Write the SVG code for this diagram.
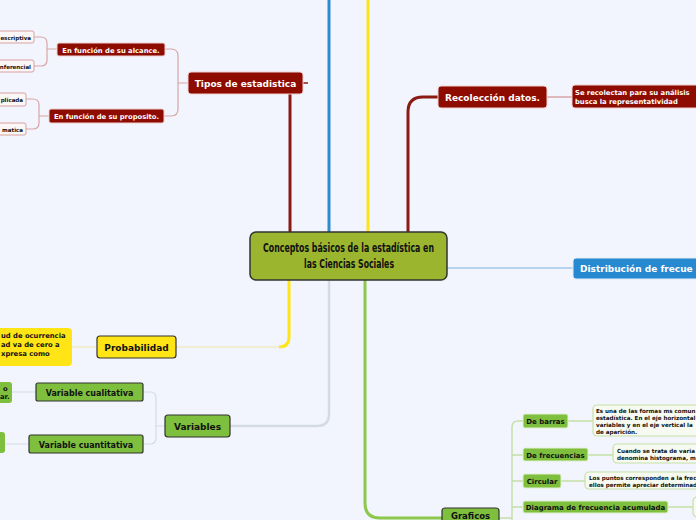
<svg xmlns="http://www.w3.org/2000/svg" width="696" height="520" viewBox="0 0 696 520">
<style>
.t{font-family:"DejaVu Sans","Liberation Sans",sans-serif;font-weight:bold}
.red{fill:#8e0b00;stroke:#f0d0d0;stroke-width:1}
.leaf{fill:#fbf7f7;stroke:#d7a0a0;stroke-width:1}
.yel{fill:#ffe516;stroke:#333;stroke-width:1.2}
.grn{fill:#7ebf3e;stroke:#333;stroke-width:1.2}
.grn2{fill:#7ebf3e;stroke:#e0f0d0;stroke-width:1}
.desc{fill:#f6faf0;stroke:#c6e0a8;stroke-width:1.2}
.w{fill:#fff}
.k{fill:#111}
</style>
<rect width="696" height="520" fill="#f2f5fd"/>
<g id="connectors" fill="none">
  <path d="M329,0 V232" stroke="#2f8bd0" stroke-width="3"/>
  <path d="M368,0 V232" stroke="#ffe516" stroke-width="3"/>
  <path d="M290,232 V94" stroke="#8b1a12" stroke-width="3"/>
  <path d="M303,83 H308" stroke="#8b1a12" stroke-width="1.5"/>
  <path d="M408,232 V112 Q408,97 423,97 H438" stroke="#8b1a12" stroke-width="3"/>
  <path d="M547,97 H572" stroke="#d9a5a5" stroke-width="1.5"/>
  <path d="M447,268 H573" stroke="#b7d3ee" stroke-width="2"/>
  <path d="M289,280 V337 Q289,347 279,347" stroke="#ffe516" stroke-width="3"/>
  <path d="M176,347 H281 M72,347 H96" stroke="#eee6a8" stroke-width="1.2"/>
  <path d="M329,280 V414 Q329,426 317,426 H230" stroke="#d5dbe3" stroke-width="2.5"/>
  <path d="M165,426 H156 M143,392 H150 Q156,392 156,398 V438 Q156,444 150,444 H143 M12,392 H36 M5,444 H29" stroke="#d5dbe3" stroke-width="1.2"/>
  <path d="M365,280 V503 Q365,518 380,518 H442" stroke="#8cc84b" stroke-width="3"/>
  <path d="M499,518 H512 M512,520 V427 Q512,421 518,421 H523 M512,455 H523 M512,481 H523 M512,507 H523" stroke="#c6e0a8" stroke-width="1.5"/>
  <path d="M568,421 H593 M588,455 H613 M561,481 H585 M668,507 H693" stroke="#c6e0a8" stroke-width="1.5"/>
  <path d="M188,83 H178 M165,49 H171 Q178,49 178,56 V109 Q178,116 171,116 H164" stroke="#d9a5a5" stroke-width="1.2"/>
  <path d="M57,49 H47 M34,37 H41 Q47,37 47,43 V60 Q47,66 41,66 H34 M49,116 H39 M26,99 H33 Q39,99 39,105 V123 Q39,129 33,129 H26" stroke="#d9a5a5" stroke-width="1.2"/>
</g>
<g id="central">
  <rect x="250" y="232" width="197" height="48" rx="6" fill="#9cb52e" stroke="#333" stroke-width="1.5"/>
  <text class="k" x="348.5" y="252" text-anchor="middle" font-family="'DejaVu Sans Condensed','DejaVu Sans',sans-serif" font-weight="bold" font-size="12.5" textLength="171" lengthAdjust="spacingAndGlyphs">Conceptos básicos de la estadística en</text>
  <text class="k" x="349" y="268" text-anchor="middle" font-family="'DejaVu Sans Condensed','DejaVu Sans',sans-serif" font-weight="bold" font-size="12.5" textLength="90" lengthAdjust="spacingAndGlyphs">las Ciencias Sociales</text>
</g>
<g id="tipos">
  <rect class="red" x="188" y="72" width="115" height="22" rx="3"/>
  <text class="t w" x="245.5" y="86.5" text-anchor="middle" font-size="9">Tipos de estadistica</text>
</g>
<g id="alcance">
  <rect class="red" x="57" y="43" width="108" height="13" rx="2"/>
  <text class="t w" x="111" y="52.5" text-anchor="middle" font-size="6.8">En función de su alcance.</text>
</g>
<g id="proposito">
  <rect class="red" x="49" y="109" width="115" height="14" rx="2"/>
  <text class="t w" x="106.5" y="119" text-anchor="middle" font-size="6.8">En función de su proposito.</text>
</g>
<g id="descriptiva">
  <rect class="leaf" x="-10" y="31" width="44" height="12" rx="2"/>
  <text class="t k" x="31" y="39.5" text-anchor="end" font-size="5.5">escriptiva</text>
</g>
<g id="inferencial">
  <rect class="leaf" x="-10" y="60" width="44" height="12" rx="2"/>
  <text class="t k" x="31" y="68.5" text-anchor="end" font-size="5.5">nferencial</text>
</g>
<g id="aplicada">
  <rect class="leaf" x="-10" y="93" width="36" height="13" rx="2"/>
  <text class="t k" x="23" y="101.5" text-anchor="end" font-size="5.5">plicada</text>
</g>
<g id="matematica">
  <rect class="leaf" x="-10" y="123" width="36" height="12" rx="2"/>
  <text class="t k" x="23" y="131.5" text-anchor="end" font-size="5.5">matica</text>
</g>
<g id="recoleccion">
  <rect class="red" x="438" y="86" width="109" height="22" rx="3"/>
  <text class="t w" x="492.5" y="100.5" text-anchor="middle" font-size="9">Recolección datos.</text>
</g>
<g id="recoleccion-desc">
  <rect class="red" x="572" y="85" width="140" height="23" rx="3"/>
  <text class="t w" x="575" y="94.5" font-size="6.8">Se recolectan para su análisis</text>
  <text class="t w" x="575" y="103.5" font-size="6.8">busca la representatividad</text>
</g>
<g id="distribucion">
  <rect x="573" y="258" width="140" height="21" rx="3" fill="#2789cf" stroke="#e0ecf8" stroke-width="1"/>
  <text class="t w" x="580" y="272" font-size="9">Distribución de frecue</text>
</g>
<g id="probabilidad">
  <rect class="yel" x="97" y="336" width="79" height="22" rx="3"/>
  <text class="t k" x="136.5" y="350.5" text-anchor="middle" font-size="9">Probabilidad</text>
</g>
<g id="probabilidad-desc">
  <rect x="-10" y="328" width="82" height="38" rx="4" fill="#ffe516"/>
  <text class="t k" x="1" y="337.5" font-size="6.8">ud de ocurrencia</text>
  <text class="t k" x="1" y="346.5" font-size="6.8">ad va de cero a</text>
  <text class="t k" x="1" y="355.5" font-size="6.8">xpresa como</text>
</g>
<g id="variables">
  <rect class="grn" x="165" y="415" width="65" height="22" rx="3"/>
  <text class="t k" x="197.5" y="429.5" text-anchor="middle" font-size="9">Variables</text>
</g>
<g id="cualitativa">
  <rect class="grn" x="36" y="383" width="107" height="18" rx="2"/>
  <text class="t k" x="89.5" y="395.5" text-anchor="middle" font-size="8">Variable cualitativa</text>
</g>
<g id="cuantitativa">
  <rect class="grn" x="29" y="435" width="114" height="18" rx="2"/>
  <text class="t k" x="86" y="447.5" text-anchor="middle" font-size="8">Variable cuantitativa</text>
</g>
<g id="cualitativa-desc">
  <rect x="-10" y="382" width="22" height="21" rx="3" fill="#7ebf3e"/>
  <text class="t k" x="3" y="390.5" font-size="6.8">o</text>
  <text class="t k" x="0" y="399" font-size="6.8">ar.</text>
</g>
<g id="cuantitativa-desc">
  <rect x="-10" y="432" width="15" height="21" rx="3" fill="#7ebf3e"/>
</g>
<g id="graficos">
  <rect class="grn" x="442" y="508" width="57" height="22" rx="3"/>
  <text class="t k" x="470.5" y="519" text-anchor="middle" font-size="8.5">Graficos</text>
</g>
<g id="barras">
  <rect class="grn2" x="523" y="414" width="45" height="14" rx="2"/>
  <text class="t k" x="545.5" y="424" text-anchor="middle" font-size="7">De barras</text>
</g>
<g id="frecuencias">
  <rect class="grn2" x="523" y="448" width="65" height="13" rx="2"/>
  <text class="t k" x="555.5" y="457.5" text-anchor="middle" font-size="7">De frecuencias</text>
</g>
<g id="circular">
  <rect class="grn2" x="523" y="474" width="38" height="14" rx="2"/>
  <text class="t k" x="542" y="484" text-anchor="middle" font-size="7">Circular</text>
</g>
<g id="acumulada">
  <rect class="grn2" x="523" y="501" width="145" height="12" rx="2"/>
  <text class="t k" x="595.5" y="510" text-anchor="middle" font-size="7">Diagrama de frecuencia acumulada</text>
</g>
<g id="barras-desc">
  <rect class="desc" x="593" y="405" width="120" height="31" rx="4"/>
  <text class="t k" x="596" y="413" font-size="5.6">Es una de las formas ms comun</text>
  <text class="t k" x="596" y="420" font-size="5.6">estadística. En el eje horizontal</text>
  <text class="t k" x="596" y="427" font-size="5.6">variables y en el eje vertical la</text>
  <text class="t k" x="596" y="434" font-size="5.6">de aparición.</text>
</g>
<g id="frecuencias-desc">
  <rect class="desc" x="613" y="444" width="100" height="19" rx="4"/>
  <text class="t k" x="617" y="452.5" font-size="5.6">Cuando se trata de varia</text>
  <text class="t k" x="617" y="459.5" font-size="5.6">denomina histograma, m</text>
</g>
<g id="circular-desc">
  <rect class="desc" x="585" y="472" width="128" height="17" rx="4"/>
  <text class="t k" x="589" y="479.5" font-size="5.6">Los puntos corresponden  a la frec</text>
  <text class="t k" x="589" y="486.5" font-size="5.6">ellos permite apreciar determinad</text>
</g>
<g id="acumulada-desc">
  <rect class="desc" x="693" y="497" width="20" height="20" rx="4"/>
</g>
</svg>
